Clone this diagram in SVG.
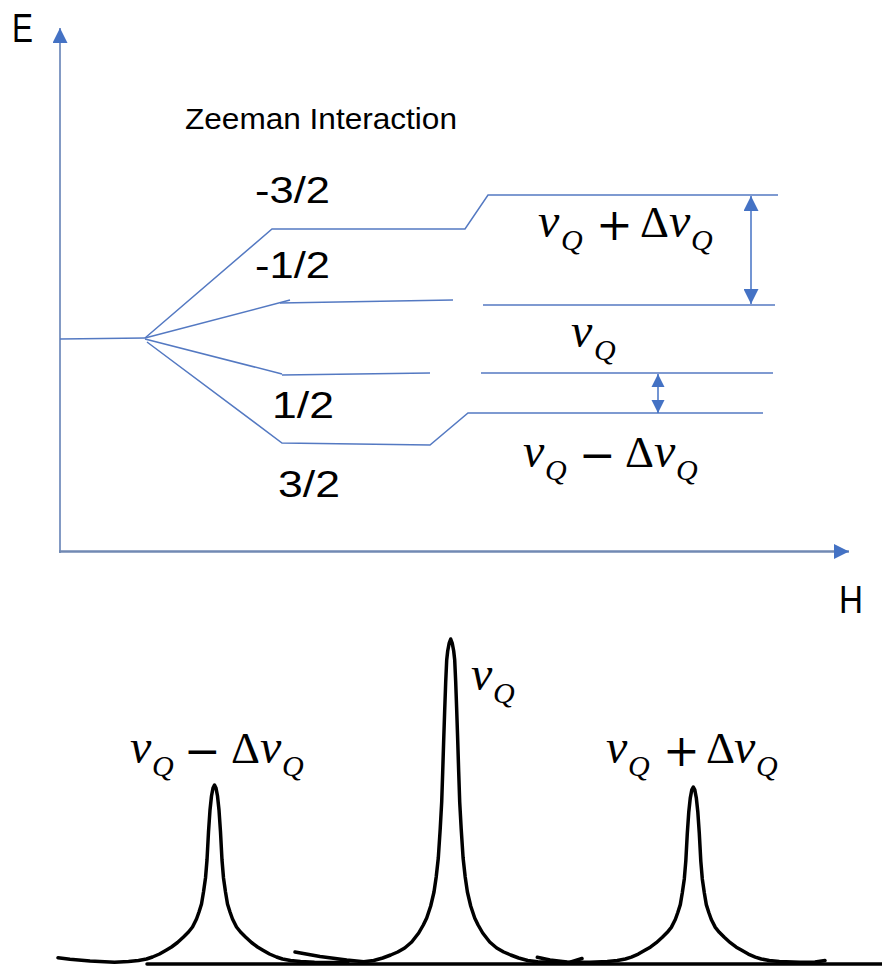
<svg xmlns="http://www.w3.org/2000/svg" width="882" height="967" viewBox="0 0 882 967">
<style>
.lvl{fill:none;stroke:#5479c2;stroke-width:1.5;stroke-linejoin:miter}
.vax{fill:none;stroke:#5a78b0;stroke-width:1.5}
.hax{fill:none;stroke:#7189b3;stroke-width:2.5}
.dbl{fill:none;stroke:#4472c4;stroke-width:1.5}
.sans{font-family:"Liberation Sans",Arial,sans-serif;fill:#000}
.m{font-family:"Liberation Serif","Times New Roman",serif;fill:#000}
.op{font-family:"DejaVu Serif",serif}
.d{font-size:45px}
.it{font-style:italic}
.peak{fill:none;stroke:#000;stroke-width:3.5;stroke-linejoin:round;stroke-linecap:round}
</style>
<defs>
<marker id="ah" viewBox="0 0 10 10" refX="10" refY="5" markerUnits="userSpaceOnUse" markerWidth="15" markerHeight="15" orient="auto-start-reverse">
<path d="M0,0 L10,5 L0,10 z" fill="#4472c4"/>
</marker>
<marker id="ahs" viewBox="0 0 10 10" refX="10" refY="5" markerUnits="userSpaceOnUse" markerWidth="13" markerHeight="14" orient="auto-start-reverse">
<path d="M0,0 L10,5 L0,10 z" fill="#4472c4"/>
</marker>
</defs>

<g id="axes">
<path class="vax" d="M60,553 L60,28" marker-end="url(#ah)"/>
<path class="hax" d="M59,551.5 L849,551.5" marker-end="url(#ah)"/>
<text class="sans" x="12" y="42" font-size="40" textLength="21" lengthAdjust="spacingAndGlyphs">E</text>
<text class="sans" x="839" y="613" font-size="38" textLength="24" lengthAdjust="spacingAndGlyphs">H</text>
</g>

<g id="connectors">
<path class="lvl" d="M60,339 L145,338"/>
<path class="lvl" d="M145,338 L272,229 L465,229 L488,195 L778,195"/>
<path class="lvl" d="M145,338 L290,300"/>
<path class="lvl" d="M280,303 L453,300"/>
<path class="lvl" d="M483,305 L775,305"/>
<path class="lvl" d="M145,339 L282,374 M282,375 L430,373"/>
<path class="lvl" d="M481,373 L773,373"/>
<path class="lvl" d="M147,342 L282,443 L430,445 L468,413 L763,413"/>
<path class="dbl" d="M751,196 L751,304" marker-start="url(#ah)" marker-end="url(#ah)"/>
<path class="dbl" d="M658,374 L658,413" marker-start="url(#ahs)" marker-end="url(#ahs)"/>
</g>

<g id="zeeman-label">
<text class="sans" x="185" y="129" font-size="30" textLength="272" lengthAdjust="spacingAndGlyphs">Zeeman Interaction</text>
</g>

<g id="level-labels">
<text class="sans" x="255" y="203" font-size="37" textLength="75" lengthAdjust="spacingAndGlyphs">-3/2</text>
<text class="sans" x="255" y="278" font-size="37" textLength="75" lengthAdjust="spacingAndGlyphs">-1/2</text>
<text class="sans" x="272" y="418" font-size="37" textLength="62" lengthAdjust="spacingAndGlyphs">1/2</text>
<text class="sans" x="278" y="497" font-size="37" textLength="62" lengthAdjust="spacingAndGlyphs">3/2</text>
</g>

<g id="freq-labels-levels">
<text class="m"><tspan class="it" x="538" y="237" font-size="48">v</tspan><tspan class="it" x="561" y="250" font-size="30">Q</tspan><tspan class="op" x="596" y="240" font-size="44">+</tspan><tspan class="d" x="640" y="237">Δ</tspan><tspan class="it" x="669" y="237" font-size="48">v</tspan><tspan class="it" x="691" y="250" font-size="30">Q</tspan></text>
<text class="m"><tspan class="it" x="571" y="347" font-size="48">v</tspan><tspan class="it" x="594" y="360" font-size="30">Q</tspan></text>
<text class="m"><tspan class="it" x="523" y="467" font-size="48">v</tspan><tspan class="it" x="545" y="480" font-size="30">Q</tspan><tspan class="op" x="579" y="470" font-size="44">−</tspan><tspan class="d" x="625" y="467">Δ</tspan><tspan class="it" x="654" y="467" font-size="48">v</tspan><tspan class="it" x="676" y="480" font-size="30">Q</tspan></text>
</g>

<g id="spectrum">
<path class="peak" d="M147,964 L882,964"/>
<path id="peak1" class="peak" d="M58,957.8 L70,959.2 L90,961 L114.5,962.3 L128.5,961.5 L138.5,960.5 L146.5,959 L152.5,957 L159.5,954 L166.5,950 L171.5,947 L177.5,942.5 L183.5,937 L188.5,932 L192.5,927 L196.5,919 L199,912 L201.5,904 L203.5,892 L205.5,878 L207,860 L208.5,832 L210,810 L211.5,796 L213,788 L214.5,785 L216,788 L217.5,796 L219,810 L220.5,832 L222,860 L223.5,878 L225.5,892 L227.5,904 L230,912 L232.5,919 L236.5,927 L240.5,932 L245.5,937 L251.5,942.5 L257.5,947 L262.5,950 L269.5,954 L276.5,957 L282.5,959 L290.5,960.5 L300.5,961.5 L314.5,962.3 L335,962.5 L348,961.5"/>
<path id="peak2" class="peak" d="M295,952 L320,956.5 L346.7,960 L363.7,961.7 L373.7,960.5 L382.7,958 L390.7,955 L397.7,952 L404.7,948 L411.7,942 L418.7,933 L423.3,925 L426.7,918 L430.7,906 L434,892 L436.2,877 L438.3,858 L440.2,829 L441.7,802 L442.7,772 L443.7,740 L444.7,710 L445.7,682 L446.7,660 L447.7,651 L449.2,643 L450.7,639 L452.2,643 L453.7,651 L454.7,660 L455.7,682 L456.7,710 L457.7,740 L458.7,772 L459.7,802 L461.2,829 L463.1,858 L465.2,877 L467.4,892 L470.7,906 L474.7,918 L478.1,925 L482.7,933 L489.7,942 L496.7,948 L503.7,952 L510.7,955 L518.7,958 L527.7,960.5 L537.7,961.7 L555,962.5 L570,962.2 L582,958.5"/>
<path id="peak3" class="peak" d="M537.3,957.3 L550,960 L567,962 L590,962.3 L607.3,961.5 L617.3,960.5 L625.3,959 L631.3,957.1 L638.3,954.1 L645.3,950.1 L650.3,947.2 L656.3,942.7 L662.3,937.3 L667.3,932.3 L671.3,927.4 L675.3,919.5 L677.8,912.5 L680.3,904.6 L682.3,892.8 L684.3,878.9 L685.8,861.1 L687.3,833.4 L688.8,811.7 L690.3,797.8 L691.8,789.9 L693.3,787 L694.8,789.9 L696.3,797.8 L697.8,811.7 L699.3,833.4 L700.8,861.1 L702.3,878.9 L704.3,892.8 L706.3,904.6 L708.8,912.5 L711.3,919.5 L715.3,927.4 L719.3,932.3 L724.3,937.3 L730.3,942.7 L736.3,947.2 L741.3,950.1 L748.3,954.1 L755.3,957.1 L761.3,959 L769.3,960.5 L779.3,961.5 L800,962.3 L815,962 L825,960.5"/>
</g>

<g id="freq-labels-spectrum">
<text class="m"><tspan class="it" x="130" y="763" font-size="48">v</tspan><tspan class="it" x="152" y="776" font-size="30">Q</tspan><tspan class="op" x="184" y="766" font-size="44">−</tspan><tspan class="d" x="231" y="763">Δ</tspan><tspan class="it" x="260" y="763" font-size="48">v</tspan><tspan class="it" x="282" y="776" font-size="30">Q</tspan></text>
<text class="m"><tspan class="it" x="471" y="690" font-size="48">v</tspan><tspan class="it" x="493" y="703" font-size="30">Q</tspan></text>
<text class="m"><tspan class="it" x="606" y="763" font-size="48">v</tspan><tspan class="it" x="628" y="776" font-size="30">Q</tspan><tspan class="op" x="663" y="766" font-size="44">+</tspan><tspan class="d" x="706" y="763">Δ</tspan><tspan class="it" x="734" y="763" font-size="48">v</tspan><tspan class="it" x="756" y="776" font-size="30">Q</tspan></text>
</g>
</svg>
